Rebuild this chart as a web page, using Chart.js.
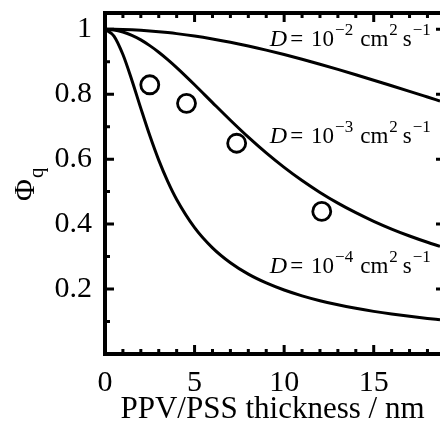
<!DOCTYPE html>
<html>
<head>
<meta charset="utf-8">
<script src="https://cdn.jsdelivr.net/npm/chart.js@4.4.0/dist/chart.umd.min.js"></script>
<style>
    body { margin: 0; background: #fff; }
    #contenedor { width: 440px; height: 425px; }
</style>
</head>
<body>
<div id="contenedor"><canvas id="grafico"></canvas></div>
<script>
// espesor PPV/PSS (nm)
const espesor = [0, 0.5, 1, 1.5, 2, 2.5, 3, 3.5, 4, 5, 6, 7, 8, 9, 10, 11, 12, 13, 14, 15, 16, 17, 18, 18.7];

// curvas calculadas, Phi_q
const curvaD2 = [1, 0.9998, 0.9991, 0.9981, 0.9966, 0.9946, 0.9923, 0.9896, 0.9865, 0.9791, 0.9702, 0.9601, 0.9485, 0.9358, 0.9221, 0.9076, 0.8923, 0.8763, 0.8599, 0.8431, 0.8259, 0.8086, 0.7912, 0.7790];
const curvaD3 = [1, 0.9979, 0.9914, 0.9811, 0.9673, 0.9495, 0.9293, 0.9066, 0.8820, 0.8292, 0.7742, 0.7198, 0.6678, 0.6193, 0.5747, 0.5341, 0.4976, 0.4647, 0.4352, 0.4086, 0.3848, 0.3634, 0.3440, 0.3315];
const curvaD4 = [1, 0.9791, 0.9221, 0.8431, 0.7564, 0.6726, 0.5970, 0.5315, 0.4758, 0.3891, 0.3269, 0.2810, 0.2459, 0.2188, 0.1970, 0.1791, 0.1642, 0.1515, 0.1407, 0.1313, 0.1231, 0.1159, 0.1094, 0.1054];

// puntos experimentales
const expX = [2.5, 4.55, 7.35, 12.1];
const expY = [0.829, 0.772, 0.649, 0.439];

const ticksX = [0, 5, 10, 15];
const ticksY = [0.2, 0.4, 0.6, 0.8, 1];
const etiquetasY = ['0.2', '0.4', '0.6', '0.8', '1'];

const etiquetasD = [
    { exp: '\u22122', x: 9.2, y: 0.949 },
    { exp: '\u22123', x: 9.2, y: 0.650 },
    { exp: '\u22124', x: 9.2, y: 0.250 }
];

const serif = "'Liberation Serif', 'Times New Roman', serif";

function puntos(ys) {
    return espesor.map((x, i) => ({ x: x, y: ys[i] }));
}

function linea(ys) {
    return {
        data: puntos(ys),
        borderColor: '#000',
        borderWidth: 3,
        pointRadius: 0,
        fill: false,
        cubicInterpolationMode: 'monotone'
    };
}

function sinPadding(s) {
    s.paddingTop = 0;
    s.paddingBottom = 0;
    s.paddingLeft = 0;
    s.paddingRight = 0;
}

// marco, marcas hacia dentro, titulo Y y textos D
const ejes = {
    id: 'ejes',
    afterDraw(chart) {
        const { ctx, chartArea: a, scales: { x, y } } = chart;
        ctx.save();
        ctx.strokeStyle = '#000';
        ctx.fillStyle = '#000';
        ctx.lineWidth = 4;
        ctx.beginPath();
        ctx.moveTo(a.right, a.top);
        ctx.lineTo(a.left, a.top);
        ctx.lineTo(a.left, a.bottom);
        ctx.lineTo(a.right, a.bottom);
        ctx.stroke();

        ctx.lineWidth = 3;
        ctx.beginPath();
        for (let v = 1; v <= 18; v++) {
            const px = x.getPixelForValue(v);
            const len = v % 5 === 0 ? 9 : 5;
            ctx.moveTo(px, a.top); ctx.lineTo(px, a.top + len);
            ctx.moveTo(px, a.bottom); ctx.lineTo(px, a.bottom - len);
        }
        for (let k = 1; k <= 10; k++) {
            const py = y.getPixelForValue(k / 10);
            const len = k % 2 === 0 ? 9 : 5;
            ctx.moveTo(a.left, py); ctx.lineTo(a.left + len, py);
            if (k % 2 === 0) {
                ctx.moveTo(a.right - 4, py); ctx.lineTo(a.right, py);
            }
        }
        ctx.stroke();

        // titulo eje Y: Phi sub q
        ctx.save();
        ctx.translate(34, 201);
        ctx.rotate(-Math.PI / 2);
        ctx.textBaseline = 'alphabetic';
        ctx.textAlign = 'left';
        ctx.font = '30px ' + serif;
        ctx.fillText('\u03A6', 0, 0);
        const w = ctx.measureText('\u03A6').width;
        ctx.font = '21px ' + serif;
        ctx.fillText('q', w + 1, 9);
        ctx.restore();

        // etiquetas D = 10^n cm^2 s^-1
        ctx.textBaseline = 'alphabetic';
        ctx.textAlign = 'left';
        etiquetasD.forEach(e => {
            let cx = x.getPixelForValue(e.x);
            const by = y.getPixelForValue(e.y);
            const partes = [
                { t: 'D', f: 'italic 24px ' + serif, dy: 0, gap: 3 },
                { t: '=', f: '23px ' + serif, dy: 0, gap: 8 },
                { t: '10', f: '23px ' + serif, dy: 0, gap: 1 },
                { t: e.exp, f: '17px ' + serif, dy: -11, gap: 7 },
                { t: 'cm', f: '23px ' + serif, dy: 0, gap: 1 },
                { t: '2', f: '17px ' + serif, dy: -11, gap: 5 },
                { t: 's', f: '23px ' + serif, dy: 0, gap: 1 },
                { t: '\u22121', f: '17px ' + serif, dy: -11, gap: 0 }
            ];
            partes.forEach(p => {
                ctx.font = p.f;
                ctx.fillText(p.t, cx, by + p.dy);
                cx += ctx.measureText(p.t).width + p.gap;
            });
        });
        ctx.restore();
    }
};

const ctx = document.getElementById('grafico').getContext('2d');
const chart = new Chart(ctx, {
    type: 'line',
    data: {
        datasets: [
            linea(curvaD2),
            linea(curvaD3),
            linea(curvaD4),
            {
                type: 'scatter',
                data: expX.map((x, i) => ({ x: x, y: expY[i] })),
                showLine: false,
                pointStyle: 'circle',
                pointRadius: 9,
                pointBorderWidth: 2.8,
                pointBorderColor: '#000',
                pointBackgroundColor: 'rgba(0,0,0,0)'
            }
        ]
    },
    options: {
        responsive: true,
        maintainAspectRatio: false,
        animation: false,
        layout: { autoPadding: false, padding: { top: 13, right: 0, left: 0, bottom: 0 } },
        plugins: {
            legend: { display: false },
            tooltip: { enabled: false }
        },
        scales: {
            x: {
                type: 'linear',
                min: 0,
                max: 18.7,
                grid: { display: false, drawTicks: false },
                border: { display: false },
                afterBuildTicks: s => { s.ticks = ticksX.map(v => ({ value: v })); },
                afterFit: s => { s.height = 71; sinPadding(s); },
                ticks: {
                    padding: 11,
                    color: '#000',
                    maxRotation: 0,
                    font: { family: serif, size: 30 },
                    callback: v => String(v)
                },
                title: {
                    display: true,
                    text: 'PPV/PSS thickness / nm',
                    color: '#000',
                    font: { family: serif, size: 31, lineHeight: 1 },
                    padding: { top: 0, bottom: 0 }
                }
            },
            y: {
                min: 0,
                max: 1.05,
                grid: { display: false, drawTicks: false },
                border: { display: false },
                afterBuildTicks: s => { s.ticks = ticksY.map(v => ({ value: v })); },
                afterFit: s => { s.width = 105; sinPadding(s); },
                ticks: {
                    padding: 13,
                    color: '#000',
                    font: { family: serif, size: 30 },
                    callback: (v, i) => etiquetasY[i]
                }
            }
        }
    },
    plugins: [ejes]
});
</script>
</body>
</html>
